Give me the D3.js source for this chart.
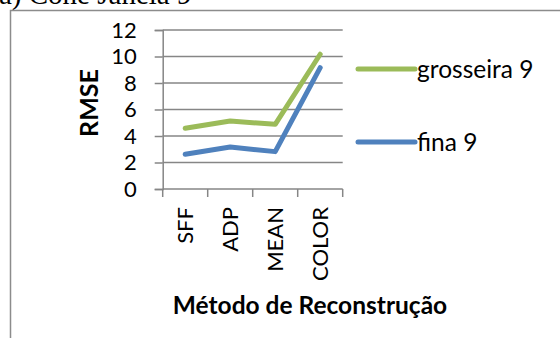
<!DOCTYPE html>
<html>
<head>
<meta charset="utf-8">
<script src="https://cdn.jsdelivr.net/npm/d3@7"></script>
<style>
  html, body { margin: 0; padding: 0; background: #fff; }
  svg { display: block; }
  text { font-family: Lato, "Open Sans", sans-serif; fill: #000; }
</style>
</head>
<body>
<svg id="chart" width="560" height="338"></svg>
<script>
// Reconstruction methods on the x axis
const categories = ["SFF", "ADP", "MEAN", "COLOR"];
// RMSE per method for the coarse and fine grids (window 9)
const grosseira9 = [4.58, 5.13, 4.88, 10.17];
const fina9 = [2.62, 3.17, 2.82, 9.16];
const yTicks = [0, 2, 4, 6, 8, 10, 12];
const series = [
  { name: "grosseira 9", values: grosseira9, color: "#9BBB59" },
  { name: "fina 9", values: fina9, color: "#4F81BD" }
];

const svg = d3.select("#chart");
const plot = { left: 162.7, right: 342.7, top: 30, bottom: 189 };

const x = d3.scaleBand().domain(categories).range([plot.left, plot.right]).padding(0);
const y = d3.scaleLinear().domain([0, 12]).range([plot.bottom, plot.top]);

// Caption above the chart frame (partly cut off at the top)
svg.append("text")
  .attr("x", -1).attr("y", 4)
  .style("font-family", "'Liberation Serif', 'Times New Roman', serif")
  .style("font-size", "29px")
  .text("a) Cone Janela 9");

// Chart frame
svg.append("path")
  .attr("d", "M10.5,338 V10.5 H560")
  .attr("fill", "none").attr("stroke", "#8c8c8c").attr("stroke-width", 1.5);

// Horizontal gridlines and y axis
const yAxis = d3.axisLeft(y).tickValues(yTicks).tickSize(8).tickPadding(18).tickFormat(d3.format("d"));
const gy = svg.append("g").attr("transform", `translate(${plot.left},0)`).call(yAxis);
gy.select(".domain").attr("stroke", "#868686").attr("stroke-width", 1.5);
gy.selectAll(".tick line").attr("stroke", "#868686").attr("stroke-width", 1.5);
gy.selectAll(".tick text").style("font-size", "22px").attr("fill", "#000");

svg.append("g").selectAll("line")
  .data(yTicks.filter(d => d > 0))
  .join("line")
  .attr("x1", plot.left).attr("x2", plot.right)
  .attr("y1", d => y(d)).attr("y2", d => y(d))
  .attr("stroke", "#868686").attr("stroke-width", 1.5);

// x axis with tick marks between categories
const gx = svg.append("g").attr("transform", `translate(0,${plot.bottom})`);
gx.append("line")
  .attr("x1", plot.left).attr("x2", plot.right)
  .attr("stroke", "#868686").attr("stroke-width", 1.5);
const bounds = categories.map(c => x(c)).concat([x(categories[categories.length - 1]) + x.bandwidth()]);
gx.selectAll("line.tk").data(bounds).join("line").attr("class", "tk")
  .attr("x1", d => d).attr("x2", d => d).attr("y1", 0).attr("y2", 8)
  .attr("stroke", "#868686").attr("stroke-width", 1.5);
gx.selectAll("text").data(categories).join("text")
  .attr("transform", d => `translate(${x(d) + x.bandwidth() / 2},18) rotate(-90)`)
  .attr("text-anchor", "end")
  .attr("dy", "0.36em")
  .style("font-size", "22px")
  .text(d => d);

// Axis titles
svg.append("text")
  .attr("transform", "translate(89,103) rotate(-90)")
  .attr("text-anchor", "middle").attr("dy", "0.36em")
  .style("font-size", "25px").style("font-weight", "bold")
  .text("RMSE");
svg.append("text")
  .attr("x", 310).attr("y", 314)
  .attr("text-anchor", "middle")
  .style("font-size", "24.5px").style("font-weight", "bold")
  .text("Método de Reconstrução");

// Series lines
const line = d3.line()
  .x((d, i) => x(categories[i]) + x.bandwidth() / 2)
  .y(d => y(d));
svg.append("g").selectAll("path")
  .data(series)
  .join("path")
  .attr("d", d => line(d.values))
  .attr("fill", "none")
  .attr("stroke", d => d.color)
  .attr("stroke-width", 5)
  .attr("stroke-linejoin", "round")
  .attr("stroke-linecap", "round");

// Legend
const legendY = [69, 142];
const lg = svg.append("g").selectAll("g").data(series).join("g")
  .attr("transform", (d, i) => `translate(358,${legendY[i]})`);
lg.append("line")
  .attr("x1", 0).attr("x2", 57)
  .attr("stroke", d => d.color).attr("stroke-width", 5).attr("stroke-linecap", "round");
lg.append("text")
  .attr("x", 59).attr("dy", "0.36em")
  .style("font-size", "24.5px")
  .text(d => d.name);
</script>
</body>
</html>
